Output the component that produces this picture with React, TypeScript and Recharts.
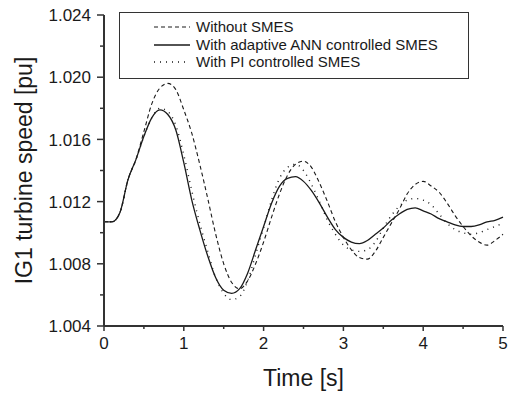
import React from "react";
import { LineChart, Line, XAxis, YAxis, Legend } from "recharts";

const FONT = "'Liberation Sans', Arial, sans-serif";
const INK = "#1a1a1a";
const AXIS = "#333333";

// time axis (s)
const times = [
  0, 0.1, 0.2, 0.3, 0.4, 0.5, 0.6, 0.7, 0.8, 0.9,
  1.0, 1.1, 1.2, 1.3, 1.4, 1.5, 1.6, 1.7, 1.8, 1.9,
  2.0, 2.1, 2.2, 2.3, 2.4, 2.5, 2.6, 2.7, 2.8, 2.9,
  3.0, 3.1, 3.2, 3.3, 3.4, 3.5, 3.6, 3.7, 3.8, 3.9,
  4.0, 4.1, 4.2, 4.3, 4.4, 4.5, 4.6, 4.7, 4.8, 4.9, 5.0,
];

// Without SMES (dashed)
const withoutSmes = [
  1.0107, 1.0107, 1.0113, 1.0134, 1.0147, 1.0165, 1.0183, 1.0193, 1.0196, 1.0192,
  1.0179, 1.0164, 1.0144, 1.0122, 1.0099, 1.0080, 1.0068, 1.0064, 1.0069, 1.0080,
  1.0094, 1.0110, 1.0125, 1.0137, 1.0144, 1.0146, 1.0142, 1.0132, 1.0120, 1.0107,
  1.0097, 1.0089, 1.0084, 1.0083, 1.0088, 1.0097, 1.0106, 1.0115, 1.0125, 1.0131,
  1.0133, 1.0130, 1.0126, 1.0119, 1.0111, 1.0104, 1.0098, 1.0094, 1.0092, 1.0095, 1.0099,
];

// With adaptive ANN controlled SMES (solid)
const annSmes = [
  1.0107, 1.0107, 1.0113, 1.0134, 1.0147, 1.0162, 1.0174, 1.0179, 1.0176, 1.0166,
  1.0145, 1.0121, 1.0102, 1.0085, 1.0071, 1.0063, 1.0061, 1.0064, 1.0074, 1.0089,
  1.0104, 1.0119, 1.0130, 1.0135, 1.0136, 1.0133, 1.0127, 1.0119, 1.0110, 1.0102,
  1.0097, 1.0094, 1.0093, 1.0095, 1.0099, 1.0103, 1.0108, 1.0112, 1.0115, 1.0116,
  1.0114, 1.0112, 1.0109, 1.0107, 1.0105, 1.0104, 1.0104, 1.0105, 1.0107, 1.0108, 1.0110,
];

// With PI controlled SMES (dotted)
const piSmes = [
  1.0107, 1.0107, 1.0113, 1.0134, 1.0147, 1.0162, 1.0174, 1.0180, 1.0178, 1.0169,
  1.0150, 1.0127, 1.0106, 1.0088, 1.0071, 1.0061, 1.0057, 1.0059, 1.0069, 1.0086,
  1.0103, 1.0121, 1.0135, 1.0142, 1.0144, 1.0140, 1.0131, 1.0120, 1.0108, 1.0099,
  1.0092, 1.0089, 1.0088, 1.0089, 1.0094, 1.0103, 1.0111, 1.0117, 1.0121, 1.0122,
  1.0121, 1.0118, 1.0112, 1.0106, 1.0102, 1.0100, 1.0099, 1.0100, 1.0102, 1.0104, 1.0106,
];

const xTicks = [0, 0.5, 1, 1.5, 2, 2.5, 3, 3.5, 4, 4.5, 5];
const yTicks = [1.004, 1.006, 1.008, 1.01, 1.012, 1.014, 1.016, 1.018, 1.02, 1.022, 1.024];
const yMajor = [1.004, 1.008, 1.012, 1.016, 1.02, 1.024];

const seriesNames = [
  "Without SMES",
  "With adaptive ANN controlled SMES",
  "With PI controlled SMES",
];

const data = times.map((t, i) => ({
  t,
  without: withoutSmes[i],
  ann: annSmes[i],
  pi: piSmes[i],
}));

const TICK_SIZE = 7;
const TICK_MARGIN = 6;

function YTick(props: any) {
  const { x, y, payload } = props;
  const v = payload.value as number;
  const major = yMajor.some((m) => Math.abs(m - v) < 1e-9);
  const ax = x + TICK_SIZE + TICK_MARGIN;
  return (
    <g>
      <line x1={ax - (major ? 7 : 4)} x2={ax} y1={y} y2={y} stroke={AXIS} strokeWidth={1.5} />
      {major && (
        <text x={x} y={y} dy="0.36em" textAnchor="end" fontSize={17} fontFamily={FONT} fill={INK}>
          {v.toFixed(3)}
        </text>
      )}
    </g>
  );
}

function XTick(props: any) {
  const { x, y, payload } = props;
  const v = payload.value as number;
  const major = Number.isInteger(v);
  const ay = y - 5 - TICK_MARGIN;
  return (
    <g>
      <line x1={x} x2={x} y1={ay} y2={ay + (major ? 5 : 3)} stroke={AXIS} strokeWidth={1.5} />
      {major && (
        <text x={x} y={y} dy="0.71em" textAnchor="middle" fontSize={17} fontFamily={FONT} fill={INK}>
          {v}
        </text>
      )}
    </g>
  );
}

function LegendBox() {
  const rows = [
    { name: seriesNames[0], dash: "4 3", w: 1.1 },
    { name: seriesNames[1], dash: undefined, w: 1.3 },
    { name: seriesNames[2], dash: "1 5", w: 1.4 },
  ];
  const rowY = [15, 33, 50];
  return (
    <svg width={350} height={67} style={{ display: "block" }}>
      <rect x={0.5} y={0.5} width={349} height={66} fill="#fff" stroke={AXIS} strokeWidth={1} />
      {rows.map((r, i) => (
        <g key={r.name}>
          <line x1={35} x2={71} y1={rowY[i]} y2={rowY[i]} stroke={INK} strokeWidth={r.w} strokeDasharray={r.dash} />
          <text x={77} y={rowY[i]} dy="0.36em" fontSize={15} fontFamily={FONT} fill={INK}>
            {r.name}
          </text>
        </g>
      ))}
    </svg>
  );
}

export default function App() {
  return (
    <div style={{ position: "absolute", left: 0, top: 0, width: 511, height: 398, background: "#fff" }}>
      <LineChart width={511} height={398} data={data} margin={{ top: 15, right: 8, bottom: 0, left: 0 }}>
        <XAxis
          dataKey="t"
          type="number"
          domain={[0, 5]}
          ticks={xTicks}
          interval={0}
          tickSize={5}
          tickMargin={TICK_MARGIN}
          tickLine={false}
          tick={<XTick />}
          axisLine={{ stroke: AXIS, strokeWidth: 2 }}
          height={72}
          label={{
            content: (p: any) => {
              const vb = p.viewBox;
              return (
                <text x={vb.x + vb.width / 2} y={vb.y + 60} textAnchor="middle" fontSize={23} fontFamily={FONT} fill={INK}>
                  Time [s]
                </text>
              );
            },
          }}
        />
        <YAxis
          type="number"
          domain={[1.004, 1.024]}
          ticks={yTicks}
          interval={0}
          allowDataOverflow
          width={104}
          tickSize={TICK_SIZE}
          tickMargin={TICK_MARGIN}
          tickLine={false}
          tick={<YTick />}
          axisLine={{ stroke: AXIS, strokeWidth: 2 }}
          label={{
            content: (p: any) => {
              const vb = p.viewBox;
              const cx = vb.x + 32;
              const cy = vb.y + vb.height / 2;
              return (
                <text x={cx} y={cy} transform={`rotate(-90 ${cx} ${cy})`} textAnchor="middle" fontSize={23} fontFamily={FONT} fill={INK}>
                  IG1 turbine speed [pu]
                </text>
              );
            },
          }}
        />
        <Legend
          layout="vertical"
          verticalAlign="middle"
          align="center"
          wrapperStyle={{ left: 119, top: 12, width: 350, height: 67 }}
          content={() => <LegendBox />}
        />
        <Line type="monotone" dataKey="without" name={seriesNames[0]} stroke={INK} strokeWidth={1.1} strokeDasharray="4 3" dot={false} isAnimationActive={false} />
        <Line type="monotone" dataKey="ann" name={seriesNames[1]} stroke={INK} strokeWidth={1.3} dot={false} isAnimationActive={false} />
        <Line type="monotone" dataKey="pi" name={seriesNames[2]} stroke={INK} strokeWidth={1.4} strokeDasharray="1 5" dot={false} isAnimationActive={false} />
      </LineChart>
    </div>
  );
}
